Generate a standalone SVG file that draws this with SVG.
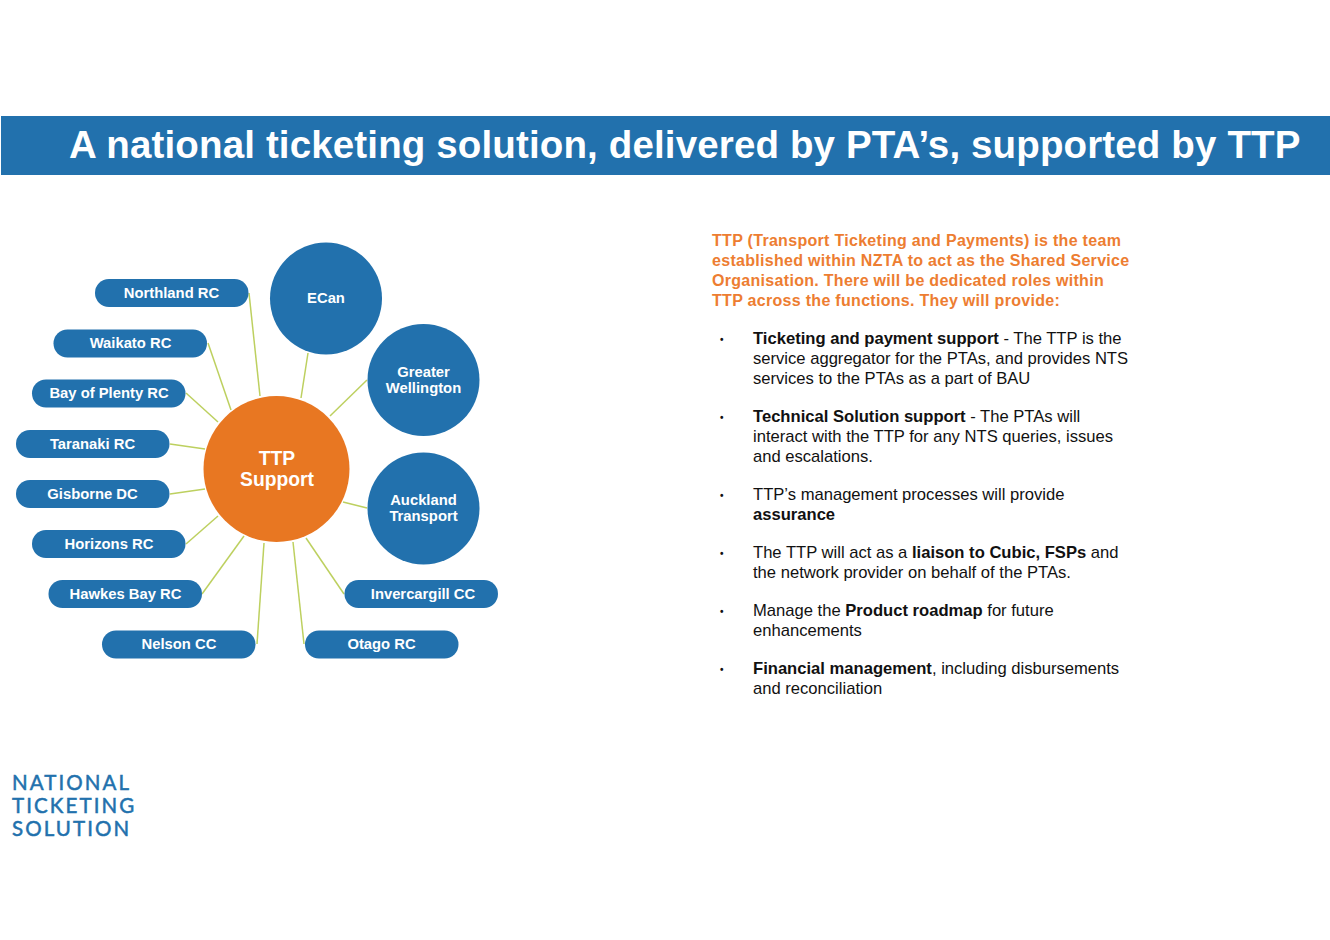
<svg xmlns="http://www.w3.org/2000/svg" width="1330" height="940" viewBox="0 0 1330 940">
<style>
text{font-family:"Liberation Sans",Arial,sans-serif}
.p{fill:#2271ad}
.l{fill:#fff;font-size:14.8px;font-weight:700;text-anchor:middle}
.c{stroke:#bdd05f;stroke-width:1.5;fill:none}
.o{fill:#ed7d31;font-size:16px;font-weight:700;letter-spacing:.3px}
.b{fill:#111;font-size:16.6px}
.s{font-weight:700}
.d{fill:#111;font-size:10px;font-weight:700}
.n{fill:#2271ad;stroke:#2271ad;stroke-width:.5;font-size:20.5px;letter-spacing:2.1px;font-family:Lato,"Liberation Sans",sans-serif}
</style>
<rect width="1330" height="940" fill="#fff"/>
<g id="title"><rect x="1" y="116" width="1329" height="59" fill="#2271ad"/>
<text x="69" y="158" font-size="38.5" font-weight="700" letter-spacing=".14" fill="#fff">A national ticketing solution, delivered by PTA’s, supported by TTP</text></g>
<g id="connectors" class="c">
<line x1="249" y1="293" x2="260" y2="396"/>
<line x1="208" y1="343" x2="231" y2="410"/>
<line x1="186" y1="393" x2="218" y2="422"/>
<line x1="170" y1="444" x2="205" y2="449"/>
<line x1="170" y1="494" x2="205" y2="489"/>
<line x1="186" y1="544" x2="218" y2="516"/>
<line x1="202" y1="594" x2="244" y2="536"/>
<line x1="257" y1="644" x2="264" y2="543"/>
<line x1="304" y1="644" x2="293" y2="542"/>
<line x1="344" y1="594" x2="306" y2="538"/>
<line x1="308" y1="353" x2="301" y2="398"/>
<line x1="367" y1="380" x2="330" y2="416"/>
<line x1="367" y1="508" x2="343" y2="502"/>
</g>
<g id="ttp-support"><circle cx="276.5" cy="469" r="73" fill="#e87722"/>
<text x="277" y="464.500" text-anchor="middle" font-size="19.3" font-weight="700" fill="#fff">TTP</text>
<text x="277" y="485.500" text-anchor="middle" font-size="19.3" font-weight="700" fill="#fff">Support</text></g>
<g id="ecan"><circle class="p" cx="326" cy="298.500" r="56"/><text class="l" x="326" y="303">ECan</text></g>
<g id="greater-wellington"><circle class="p" cx="423.500" cy="380" r="56"/><text class="l" x="423.500" y="376.500">Greater</text><text class="l" x="423.500" y="393">Wellington</text></g>
<g id="auckland-transport"><circle class="p" cx="423.500" cy="508.500" r="56"/><text class="l" x="423.500" y="505">Auckland</text><text class="l" x="423.500" y="521">Transport</text></g>
<g id="northland"><rect class="p" x="95" y="279" width="153.500" height="28" rx="14"/><text class="l" x="171.500" y="298">Northland RC</text></g>
<g id="waikato"><rect class="p" x="53.500" y="329.500" width="153.500" height="28" rx="14"/><text class="l" x="130.500" y="348">Waikato RC</text></g>
<g id="bay-of-plenty"><rect class="p" x="32" y="379.500" width="153.500" height="28" rx="14"/><text class="l" x="109" y="398">Bay of Plenty RC</text></g>
<g id="taranaki"><rect class="p" x="16" y="430" width="153.500" height="28" rx="14"/><text class="l" x="92.500" y="448.500">Taranaki RC</text></g>
<g id="gisborne"><rect class="p" x="16" y="480" width="153.500" height="28" rx="14"/><text class="l" x="92.500" y="498.500">Gisborne DC</text></g>
<g id="horizons"><rect class="p" x="32" y="530" width="153.500" height="28" rx="14"/><text class="l" x="109" y="548.500">Horizons RC</text></g>
<g id="hawkes-bay"><rect class="p" x="48.500" y="580" width="153.500" height="28" rx="14"/><text class="l" x="125.500" y="599">Hawkes Bay RC</text></g>
<g id="nelson"><rect class="p" x="102" y="630.500" width="153.500" height="28" rx="14"/><text class="l" x="179" y="649">Nelson CC</text></g>
<g id="otago"><rect class="p" x="305" y="630.500" width="153.500" height="28" rx="14"/><text class="l" x="381.500" y="649">Otago RC</text></g>
<g id="invercargill"><rect class="p" x="344.500" y="580" width="153.500" height="28" rx="14"/><text class="l" x="423" y="599">Invercargill CC</text></g>
<g id="intro">
<text class="o" x="712" y="245.500">TTP (Transport Ticketing and Payments) is the team</text>
<text class="o" x="712" y="265.500">established within NZTA to act as the Shared Service</text>
<text class="o" x="712" y="285.500">Organisation. There will be dedicated roles within</text>
<text class="o" x="712" y="305.500">TTP across the functions. They will provide:</text>
</g>
<g id="bullets">
<text class="d" x="720" y="342.500">•</text>
<text class="b" x="753" y="343.500"><tspan class="s">Ticketing and payment support</tspan> - The TTP is the</text>
<text class="b" x="753" y="363.500">service aggregator for the PTAs, and provides NTS</text>
<text class="b" x="753" y="383.500">services to the PTAs as a part of BAU</text>
<text class="d" x="720" y="420.500">•</text>
<text class="b" x="753" y="421.500"><tspan class="s">Technical Solution support</tspan> - The PTAs will</text>
<text class="b" x="753" y="441.500">interact with the TTP for any NTS queries, issues</text>
<text class="b" x="753" y="461.500">and escalations.</text>
<text class="d" x="720" y="498.500">•</text>
<text class="b" x="753" y="499.500">TTP’s management processes will provide</text>
<text class="b s" x="753" y="519.500">assurance</text>
<text class="d" x="720" y="556.500">•</text>
<text class="b" x="753" y="557.500">The TTP will act as a <tspan class="s">liaison to Cubic, FSPs</tspan> and</text>
<text class="b" x="753" y="577.500">the network provider on behalf of the PTAs.</text>
<text class="d" x="720" y="614.500">•</text>
<text class="b" x="753" y="615.500">Manage the <tspan class="s">Product roadmap</tspan> for future</text>
<text class="b" x="753" y="635.500">enhancements</text>
<text class="d" x="720" y="672.500">•</text>
<text class="b" x="753" y="673.500"><tspan class="s">Financial management</tspan>, including disbursements</text>
<text class="b" x="753" y="693.500">and reconciliation</text>
</g>
<g id="logo">
<text class="n" x="12" y="790">NATIONAL</text>
<text class="n" x="12" y="813">TICKETING</text>
<text class="n" x="12" y="836">SOLUTION</text>
</g>
</svg>
